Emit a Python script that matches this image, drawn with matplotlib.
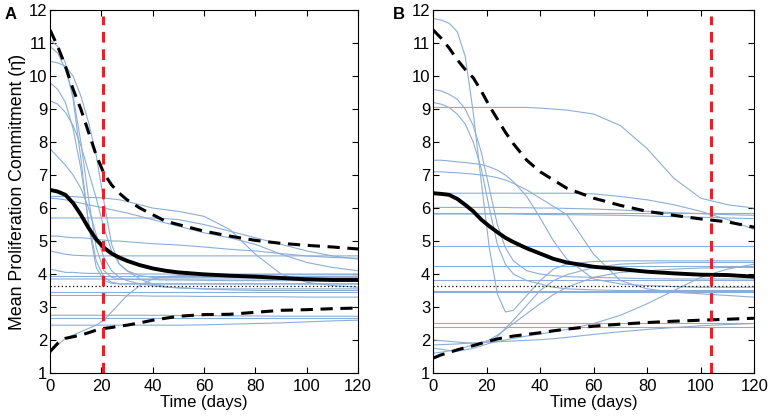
import numpy as np
import matplotlib.pyplot as plt

plt.rcParams['font.family'] = ['Liberation Sans', 'DejaVu Sans']

# common time grid (days)
t = [0, 3, 6, 9, 12, 15, 18, 21, 24, 27, 30, 35, 40, 45, 50, 60, 70, 80, 90, 100, 110, 120]

# ---- panel A ----
a_mean = [6.55, 6.5, 6.4, 6.15, 5.8, 5.4, 5.05, 4.8, 4.62, 4.5, 4.4, 4.27, 4.17, 4.1, 4.05, 3.99, 3.95, 3.92, 3.88, 3.84, 3.82, 3.82]
a_upper = [11.4, 10.9, 10.3, 9.6, 9.0, 8.3, 7.6, 7.05, 6.7, 6.45, 6.25, 6.0, 5.8, 5.6, 5.5, 5.3, 5.15, 5.02, 4.93, 4.87, 4.82, 4.76]
a_lower = [1.65, 1.9, 2.05, 2.1, 2.15, 2.22, 2.3, 2.35, 2.38, 2.42, 2.45, 2.52, 2.6, 2.66, 2.72, 2.77, 2.78, 2.84, 2.9, 2.92, 2.95, 2.97]
a_runs = [
    [11.1, 10.9, 10.4, 9.3, 7.5, 5.5, 4.2, 3.8, 3.72, 3.7, 3.7, 3.7, 3.7, 3.7, 3.7, 3.7, 3.7, 3.7, 3.7, 3.7, 3.7, 3.7],
    [10.9, 10.7, 10.2, 9.4, 8.0, 6.3, 4.8, 4.1, 3.9, 3.85, 3.85, 3.85, 3.85, 3.85, 3.85, 3.85, 3.85, 3.85, 3.85, 3.85, 3.85, 3.85],
    [10.45, 10.4, 10.3, 10.0, 9.4, 8.6, 7.6, 6.2, 4.9, 4.3, 4.1, 3.95, 3.9, 3.9, 3.9, 3.9, 3.9, 3.9, 3.9, 3.9, 3.9, 3.9],
    [9.8, 9.6, 9.2, 8.4, 7.2, 5.6, 4.4, 3.9, 3.75, 3.7, 3.7, 3.7, 3.7, 3.7, 3.7, 3.7, 3.7, 3.7, 3.7, 3.7, 3.7, 3.7],
    [9.25, 9.15, 8.9, 8.5, 7.9, 7.1, 6.3, 5.4, 4.7, 4.3, 4.1, 3.85, 3.7, 3.62, 3.58, 3.55, 3.55, 3.55, 3.55, 3.55, 3.55, 3.55],
    [7.8, 7.55, 7.3, 7.0, 6.6, 6.0, 5.2, 4.5, 4.1, 3.9, 3.8, 3.7, 3.65, 3.6, 3.58, 3.55, 3.52, 3.5, 3.5, 3.5, 3.5, 3.5],
    [6.35, 6.35, 6.35, 6.35, 6.33, 6.32, 6.32, 6.3, 6.28, 6.25, 6.2, 6.1, 6.0, 5.95, 5.9, 5.75, 5.35, 4.6, 4.0, 3.75, 3.65, 3.6],
    [6.3, 6.28, 6.25, 6.2, 6.15, 6.1, 6.05, 6.0, 5.95, 5.9, 5.85, 5.75, 5.65, 5.55, 5.45, 5.25, 5.1, 4.9, 4.6, 4.35, 4.2, 4.1],
    [5.7, 5.7, 5.7, 5.7, 5.7, 5.7, 5.7, 5.7, 5.7, 5.7, 5.7, 5.7, 5.7, 5.68, 5.65, 5.5, 5.3, 5.1, 4.9, 4.7, 4.55, 4.45],
    [5.15, 5.15, 5.12, 5.1, 5.1, 5.08, 5.05, 5.03, 5.0, 5.0, 4.98, 4.95, 4.92, 4.9, 4.88, 4.82, 4.75, 4.7, 4.62, 4.55, 4.5, 4.48],
    [4.7, 4.65, 4.6, 4.57, 4.56, 4.55, 4.55, 4.55, 4.55, 4.55, 4.55, 4.55, 4.55, 4.55, 4.55, 4.55, 4.55, 4.55, 4.55, 4.55, 4.55, 4.55],
    [1.65, 1.85, 2.05, 2.15, 2.25, 2.35, 2.45, 2.6, 2.85, 3.1, 3.35, 3.65, 3.85, 3.92, 3.95, 3.97, 3.98, 3.98, 3.98, 3.98, 3.98, 3.98],
    [4.15, 4.1, 4.05, 4.05, 4.03, 4.02, 4.02, 4.02, 4.01, 4.01, 4.01, 4.0, 4.0, 4.0, 4.0, 4.0, 4.0, 4.0, 4.0, 4.0, 4.0, 4.0],
    [3.95, 3.95, 3.95, 3.95, 3.95, 3.95, 3.95, 3.95, 3.95, 3.95, 3.95, 3.95, 3.95, 3.95, 3.95, 3.95, 3.95, 3.95, 3.95, 3.95, 3.95, 3.95],
    [3.85, 3.85, 3.85, 3.85, 3.85, 3.85, 3.85, 3.85, 3.84, 3.84, 3.84, 3.83, 3.83, 3.82, 3.82, 3.81, 3.8, 3.8, 3.8, 3.8, 3.8, 3.8],
    [3.45, 3.45, 3.45, 3.45, 3.45, 3.45, 3.45, 3.45, 3.45, 3.45, 3.45, 3.45, 3.45, 3.45, 3.45, 3.45, 3.45, 3.45, 3.45, 3.45, 3.45, 3.45],
    [3.35, 3.35, 3.35, 3.35, 3.35, 3.35, 3.35, 3.35, 3.35, 3.35, 3.34, 3.34, 3.33, 3.33, 3.33, 3.32, 3.32, 3.31, 3.31, 3.3, 3.3, 3.3],
    [2.75, 2.75, 2.75, 2.75, 2.75, 2.75, 2.75, 2.75, 2.75, 2.75, 2.75, 2.75, 2.75, 2.75, 2.74, 2.74, 2.73, 2.73, 2.72, 2.72, 2.72, 2.72],
    [2.68, 2.68, 2.68, 2.68, 2.68, 2.68, 2.68, 2.68, 2.68, 2.68, 2.68, 2.68, 2.68, 2.68, 2.68, 2.68, 2.68, 2.68, 2.68, 2.68, 2.68, 2.68],
    [2.45, 2.45, 2.45, 2.45, 2.45, 2.45, 2.45, 2.45, 2.45, 2.45, 2.45, 2.45, 2.45, 2.45, 2.45, 2.46, 2.48, 2.5, 2.52, 2.55, 2.58, 2.6],
]
a_switch = 20.7

# ---- panel B ----
b_mean = [6.45, 6.43, 6.4, 6.28, 6.1, 5.9, 5.65, 5.45, 5.27, 5.1, 4.97, 4.78, 4.62, 4.46, 4.35, 4.22, 4.15, 4.07, 4.02, 3.98, 3.97, 3.92]
b_upper = [11.4, 11.15, 10.85, 10.5, 10.2, 9.95, 9.55, 9.1, 8.7, 8.3, 7.95, 7.45, 7.1, 6.85, 6.6, 6.3, 6.08, 5.9, 5.78, 5.67, 5.58, 5.42]
b_lower = [1.45, 1.55, 1.62, 1.7, 1.77, 1.83, 1.9, 1.97, 2.03, 2.08, 2.12, 2.17, 2.22, 2.28, 2.33, 2.42, 2.48, 2.53, 2.57, 2.6, 2.63, 2.66]
b_runs = [
    [11.75, 11.7, 11.6, 11.35, 10.6, 8.9, 6.8, 4.8, 3.4, 2.85, 2.9, 3.35, 3.8, 4.15, 4.3, 4.38, 4.4, 4.4, 4.4, 4.4, 4.4, 4.4],
    [9.6, 9.55, 9.45, 9.3, 9.0, 8.5, 7.7, 6.6, 5.5, 4.8, 4.4, 4.1, 4.0, 3.95, 3.92, 3.9, 3.88, 3.86, 3.85, 3.85, 3.85, 3.85],
    [9.2, 9.15, 9.05, 8.85, 8.55, 8.0, 7.2, 6.0, 4.9, 4.3, 4.0, 3.8, 3.7, 3.6, 3.55, 3.52, 3.5, 3.5, 3.5, 3.5, 3.5, 3.5],
    [9.05, 9.05, 9.05, 9.05, 9.05, 9.05, 9.05, 9.05, 9.05, 9.05, 9.05, 9.05, 9.03, 9.0, 8.97, 8.85, 8.5, 7.8, 6.9, 6.3, 6.1, 6.0],
    [7.45, 7.45, 7.43, 7.4, 7.38, 7.35, 7.32, 7.25, 7.15, 7.0, 6.8, 6.35, 5.7, 5.0, 4.45, 3.85, 3.7, 3.65, 3.62, 3.6, 3.6, 3.6],
    [7.1, 7.1, 7.08, 7.07, 7.05, 7.03, 7.0, 6.97, 6.92, 6.85, 6.75, 6.55, 6.3, 6.05, 5.8, 4.6, 3.8, 3.55, 3.45, 3.4, 3.35, 3.3],
    [6.45, 6.45, 6.45, 6.45, 6.45, 6.45, 6.45, 6.45, 6.45, 6.45, 6.45, 6.45, 6.45, 6.45, 6.45, 6.43, 6.35, 6.25, 6.1, 5.9, 5.65, 5.35],
    [6.02, 6.02, 6.02, 6.02, 6.02, 6.02, 6.02, 6.02, 6.02, 6.02, 6.01, 6.01, 6.0, 6.0, 5.99, 5.97, 5.94, 5.9, 5.86, 5.83, 5.8, 5.78],
    [5.86, 5.86, 5.86, 5.86, 5.86, 5.86, 5.86, 5.86, 5.86, 5.86, 5.86, 5.86, 5.86, 5.86, 5.86, 5.86, 5.86, 5.86, 5.86, 5.86, 5.86, 5.86],
    [5.82, 5.82, 5.82, 5.82, 5.82, 5.82, 5.82, 5.82, 5.82, 5.82, 5.82, 5.81, 5.81, 5.8, 5.8, 5.79, 5.78, 5.76, 5.74, 5.72, 5.7, 5.68],
    [4.86, 4.86, 4.86, 4.86, 4.86, 4.86, 4.86, 4.86, 4.86, 4.86, 4.86, 4.86, 4.86, 4.86, 4.86, 4.86, 4.86, 4.86, 4.86, 4.86, 4.86, 4.86],
    [4.25, 4.25, 4.25, 4.25, 4.25, 4.25, 4.25, 4.25, 4.25, 4.25, 4.25, 4.25, 4.25, 4.25, 4.25, 4.25, 4.25, 4.25, 4.25, 4.25, 4.25, 4.25],
    [3.82, 3.82, 3.82, 3.82, 3.82, 3.82, 3.82, 3.82, 3.82, 3.82, 3.82, 3.82, 3.82, 3.82, 3.82, 3.82, 3.82, 3.82, 3.82, 3.82, 3.82, 3.82],
    [3.5, 3.5, 3.5, 3.5, 3.5, 3.5, 3.5, 3.5, 3.5, 3.5, 3.5, 3.5, 3.5, 3.5, 3.5, 3.5, 3.5, 3.5, 3.5, 3.5, 3.5, 3.5],
    [3.46, 3.46, 3.46, 3.46, 3.46, 3.46, 3.46, 3.46, 3.46, 3.46, 3.46, 3.46, 3.46, 3.46, 3.46, 3.46, 3.46, 3.46, 3.46, 3.46, 3.46, 3.46],
    [2.52, 2.52, 2.52, 2.52, 2.52, 2.52, 2.52, 2.52, 2.52, 2.52, 2.52, 2.52, 2.52, 2.52, 2.52, 2.52, 2.52, 2.52, 2.52, 2.52, 2.52, 2.52],
    [2.4, 2.4, 2.4, 2.4, 2.4, 2.4, 2.4, 2.4, 2.4, 2.4, 2.4, 2.4, 2.4, 2.4, 2.4, 2.4, 2.4, 2.4, 2.4, 2.4, 2.4, 2.4],
    [2.0, 1.98, 1.96, 1.94, 1.92, 1.9, 1.9, 1.95, 2.1, 2.35, 2.6, 3.05, 3.5, 3.8, 3.98, 4.2, 4.3, 4.33, 4.35, 4.35, 4.35, 4.35],
    [1.75, 1.72, 1.68, 1.66, 1.7, 1.75, 1.82, 1.9, 1.95, 2.0, 2.05, 2.12, 2.18, 2.25, 2.32, 2.5, 2.75, 3.1, 3.5, 3.9, 4.15, 4.3],
    [1.85, 1.86, 1.87, 1.88, 1.9, 1.91, 1.92, 1.94, 1.95, 1.96, 1.97, 1.99, 2.01, 2.04, 2.08, 2.17, 2.25, 2.32, 2.38, 2.43, 2.47, 2.5],
    [1.6, 1.63, 1.67, 1.72, 1.78, 1.85, 1.92, 2.0, 2.15, 2.32, 2.5, 2.8, 3.1, 3.38, 3.6, 3.9, 4.05, 4.1, 4.15, 4.18, 4.2, 4.2],
]
b_switch = 104

eq_level = 3.65

blue = '#8caed6'

fig = plt.figure(figsize=(7.72, 4.19), dpi=100)
axA = fig.add_axes([0.0648, 0.1098, 0.399, 0.866])
axB = fig.add_axes([0.561, 0.1098, 0.416, 0.866])

for ax, runs, mean, up, lo, sw in [(axA, a_runs, a_mean, a_upper, a_lower, a_switch),
                                    (axB, b_runs, b_mean, b_upper, b_lower, b_switch)]:
    for r in runs:
        ax.plot(t, r, color=blue, lw=0.8)
    ax.axhline(eq_level, color='k', ls=(0, (1, 2)), lw=0.9)
    ax.plot(t, up, 'k--', lw=2.2, dashes=(4, 2.5))
    ax.plot(t, lo, 'k--', lw=2.2, dashes=(4, 2.5))
    ax.plot(t, mean, 'k-', lw=2.8)
    ax.axvline(sw, color='#e8202a', ls='--', lw=2.2, dashes=(3.5, 2.2), ymin=0, ymax=0.985)
    ax.set_xlim(0, 120)
    ax.set_ylim(1, 12)
    ax.set_xticks(np.arange(0, 121, 20))
    ax.set_yticks(np.arange(1, 13, 1))
    ax.tick_params(direction='in', top=True, right=True, labelsize=12, length=4)
    ax.tick_params(axis='x', pad=4)
    ax.tick_params(axis='y', pad=2)
    ax.set_xlabel('Time (days)', fontsize=12, labelpad=1)

axA.set_ylabel('Mean Proliferation Commitment (\u03b7\u0304)', fontsize=12.8, labelpad=2)
fig.text(0.006, 0.965, 'A', fontsize=12, fontweight='bold', va='center')
fig.text(0.509, 0.965, 'B', fontsize=12, fontweight='bold', va='center')

fig.savefig('out.png', dpi=100)
